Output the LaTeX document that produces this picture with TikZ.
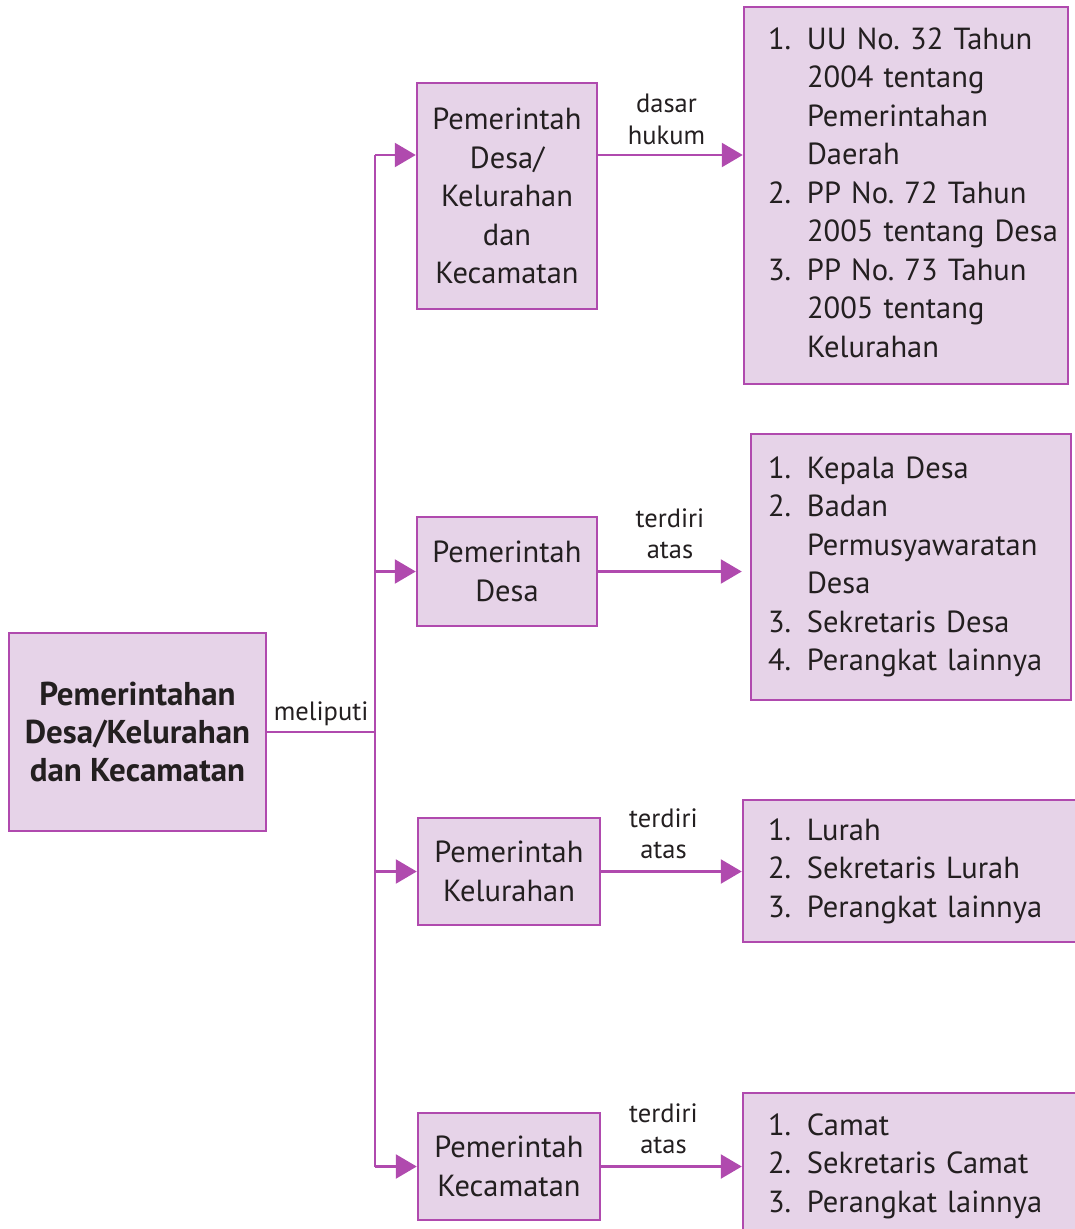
\documentclass[tikz,border=0pt]{standalone}
\usepackage{fontspec}
\setmainfont{PT Sans}
\usetikzlibrary{arrows.meta, positioning}
\definecolor{boxfill}{HTML}{E6D3E8}
\definecolor{boxline}{HTML}{B04AAE}
\definecolor{ink}{HTML}{231F20}
\frenchspacing

\begin{document}
\begin{tikzpicture}[x=1pt, y=-1pt,
       every node/.style = {text=ink},
         box/.style = {rectangle, draw=boxline, line width=2.5pt, fill=boxfill, inner sep=0pt,
                       align=center, font=\fontsize{30.5pt}{38.5pt}\selectfont},
     mainbox/.style = {box, font=\bfseries\fontsize{33pt}{38pt}\selectfont},
     listbox/.style = {box, align=left},
        conn/.style = {draw=boxline, line width=2.5pt},
         arr/.style = {conn, -{Triangle[length=21pt, width=24pt]}},
         lbl/.style = {font=\fontsize{26.5pt}{31.5pt}\selectfont, align=center, inner sep=2pt}
                        ]
\useasboundingbox (0,0) rectangle (1075,1229);
% left column
\node (main)[mainbox, minimum width=257pt, minimum height=198pt] at (137.5,732)
     {Pemerintahan\\Desa/Kelurahan\\dan Kecamatan};
% middle column
\node (pdk)  [box, minimum width=180pt, minimum height=226pt] at (507,196)
     {Pemerintah\\Desa/\\Kelurahan\\dan\\Kecamatan};
\node (pdesa)[box, minimum width=180pt, minimum height=109pt] at (507,571.5) {Pemerintah\\Desa};
\node (pkel) [box, minimum width=182pt, minimum height=107pt] at (509,871.5) {Pemerintah\\Kelurahan};
\node (pkec) [box, minimum width=182pt, minimum height=107pt] at (509,1166.5) {Pemerintah\\Kecamatan};
% right column
\node (hukum)[listbox, minimum width=324pt, minimum height=377pt, inner xsep=24pt, text width=276pt] at (906,195.5)
     {\begin{tabular}{@{}p{39pt}@{}l@{}}
      1. & UU No. 32 Tahun\\ & 2004 tentang\\ & Pemerintahan\\ & Daerah\\
      2. & PP No. 72 Tahun\\ & 2005 tentang Desa\\
      3. & PP No. 73 Tahun\\ & 2005 tentang\\ & Kelurahan
      \end{tabular}};
\node (desa) [listbox, minimum width=320pt, minimum height=266pt, inner xsep=17pt, text width=286pt] at (911,567)
     {\begin{tabular}{@{}p{39pt}@{}l@{}}
      1. & Kepala Desa\\
      2. & Badan\\ & Permusyawaratan\\ & Desa\\
      3. & Sekretaris Desa\\
      4. & Perangkat lainnya
      \end{tabular}};
\node (kel)  [listbox, minimum width=342pt, minimum height=142pt, inner xsep=25pt, text width=292pt] at (914,871)
     {\begin{tabular}{@{}p{39pt}@{}l@{}}
      1. & Lurah\\
      2. & Sekretaris Lurah\\
      3. & Perangkat lainnya
      \end{tabular}};
\node (kec)  [listbox, minimum width=342pt, minimum height=146pt, inner xsep=25pt, text width=292pt] at (914,1166)
     {\begin{tabular}{@{}p{39pt}@{}l@{}}
      1. & Camat\\
      2. & Sekretaris Camat\\
      3. & Perangkat lainnya
      \end{tabular}};
% connectors
\coordinate (fork) at (375,732);
\coordinate (top) at (375,155);
\draw[conn] (main.east) -- node (meliputi)[lbl, above=3pt] {meliputi} (fork);
\draw[conn] (top) -- (fork |- pkec.west);
\draw[arr] (top) -- (top -| pdk.west);
\draw[arr] (fork |- pdesa.west) -- (pdesa.west);
\draw[arr] (fork |- pkel.west) -- (pkel.west);
\draw[arr] (fork |- pkec.west) -- (pkec.west);
\draw[arr] (top -| pdk.east) -- node (dasar)[lbl, above=7pt, xshift=-4pt] {dasar\\hukum} (top -| hukum.west);
\draw[arr, shorten >=8pt] (pdesa.east) -- node (atas1)[lbl, above=9pt, xshift=-4pt] {terdiri\\atas} (pdesa.east -| desa.west);
\draw[arr] (pkel.east) -- node (atas2)[lbl, above=9pt, xshift=-8pt] {terdiri\\atas} (pkel.east -| kel.west);
\draw[arr] (pkec.east) -- node (atas3)[lbl, above=9pt, xshift=-8pt] {terdiri\\atas} (pkec.east -| kec.west);
\end{tikzpicture}
\end{document}
